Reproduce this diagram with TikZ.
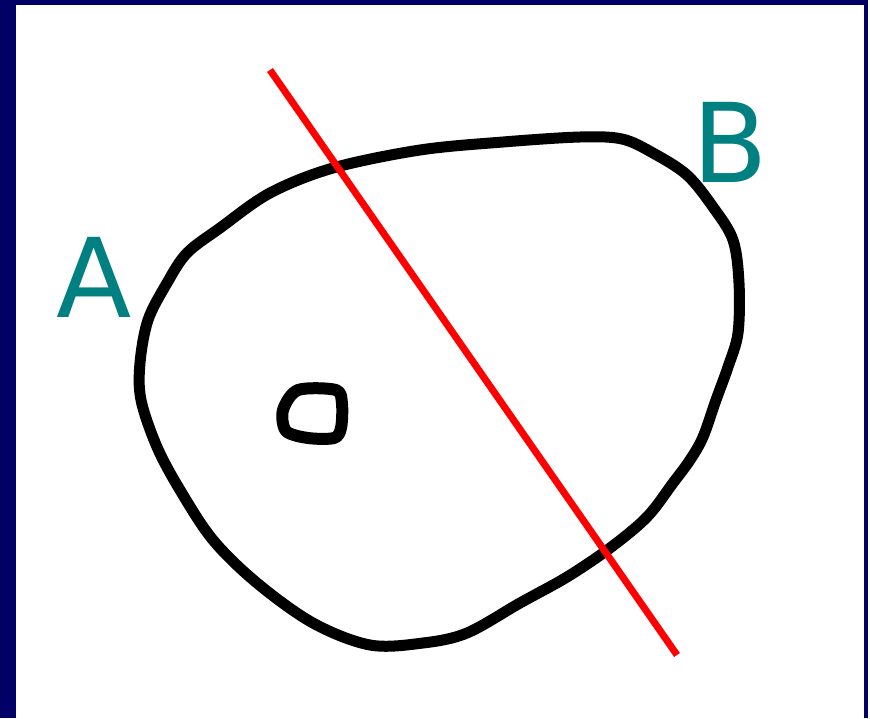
\documentclass[tikz,border=0pt]{standalone}
\usepackage{fontspec}
\newfontfamily\lblfont{DejaVu Sans}
\definecolor{navy}{HTML}{000066}
\definecolor{tealc}{HTML}{008080}
\definecolor{redc}{HTML}{FF0000}
\tikzset{
  blob/.style={draw=black, line width=11pt, line join=round},
  cutline/.style={draw=redc, line width=7pt},
  lbl/.style={text=tealc, inner sep=0pt, anchor=base, font=\lblfont\fontsize{110}{110}\selectfont}
}
\begin{document}
\begin{tikzpicture}[x=1pt,y=-1pt]
\useasboundingbox (0,0) rectangle (870,718);
\fill[navy] (0,0) rectangle (868,718);
\fill[white] (16,5) rectangle (864,718);
\fill[white] (868,0) rectangle (870,718);
% outer closed curve
\draw[blob] plot[smooth cycle, tension=0.55] coordinates {
 (333,168) (420,150) (503,142) (580,137) (622,139) (653,153) (687,175)
 (713,207) (733,240) (739,283) (738,333) (728,367) (716,400) (703,437)
 (690,460) (673,483) (647,517) (610,548) (567,577) (520,603) (467,633)
 (423,643) (370,645) (313,623) (257,583) (213,540) (180,490) (157,447)
 (141,400) (140,363) (148,320) (167,283) (187,253) (220,228) (270,193)};
% small loop
\draw[blob, line width=12pt] plot[smooth cycle, tension=0.5] coordinates {
 (298,390) (336,390) (342,404) (341,428) (334,438) (308,438) (286,431) (283,410)};
% red line
\coordinate (r1) at (270,70);
\coordinate (r2) at (677,655);
\draw[cutline] (r1) -- (r2);
% labels
\node[lbl] (A) at (94,317) {A};
\node[lbl] (B) at (730,182) {B};
\end{tikzpicture}
\end{document}
